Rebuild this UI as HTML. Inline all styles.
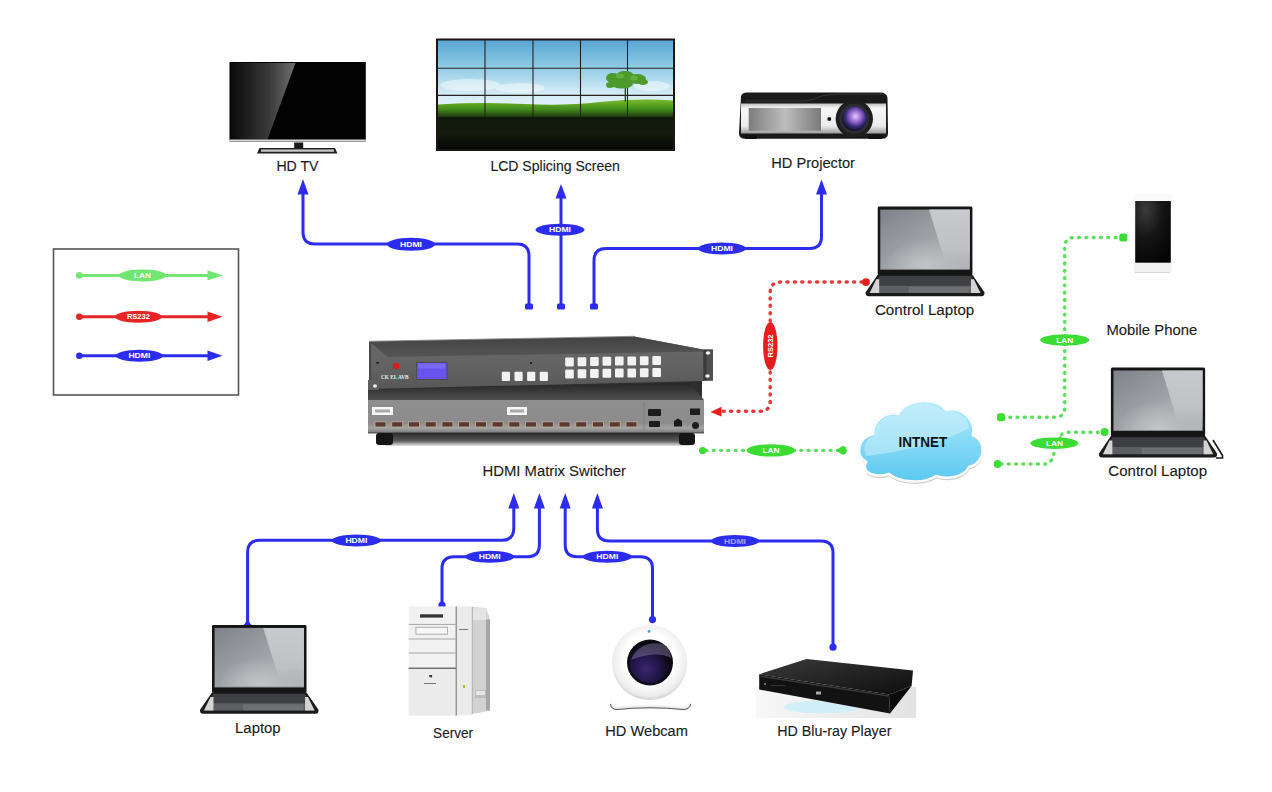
<!DOCTYPE html>
<html><head><meta charset="utf-8"><title>HDMI Matrix Switcher</title>
<style>
html,body{margin:0;padding:0;background:#fff;}
body{width:1272px;height:792px;overflow:hidden;position:relative;font-family:"Liberation Sans",sans-serif;}
svg{position:absolute;left:0;top:0;}
.lb{font-family:"Liberation Sans",sans-serif;font-size:14.7px;fill:#1a1a1a;stroke:#1a1a1a;stroke-width:0.12px;}
.tg{font-family:"Liberation Sans",sans-serif;font-size:8px;font-weight:bold;fill:#fff;}
</style></head>
<body>
<svg width="1272" height="792" viewBox="0 0 1272 792">
<defs>
  <linearGradient id="tvgl" x1="0" y1="0" x2="1" y2="0">
    <stop offset="0" stop-color="#0a0a0a"/><stop offset="0.6" stop-color="#3a3a3a"/><stop offset="1" stop-color="#707070"/>
  </linearGradient>
  <linearGradient id="sky" x1="0" y1="0" x2="0" y2="1">
    <stop offset="0" stop-color="#5aa6d2"/><stop offset="0.35" stop-color="#8fcbe6"/><stop offset="0.65" stop-color="#cfe9f4"/><stop offset="1" stop-color="#eef8fb"/>
  </linearGradient>
  <linearGradient id="grass" x1="0" y1="0" x2="0" y2="1">
    <stop offset="0" stop-color="#7abd2e"/><stop offset="0.55" stop-color="#418a1c"/><stop offset="1" stop-color="#1a330b"/>
  </linearGradient>
  <linearGradient id="dark" x1="0" y1="0" x2="0" y2="1">
    <stop offset="0" stop-color="#0f1a0b"/><stop offset="0.5" stop-color="#141a0d"/><stop offset="1" stop-color="#070806"/>
  </linearGradient>
  <linearGradient id="projbody" x1="0" y1="0" x2="0" y2="1">
    <stop offset="0" stop-color="#bdbdbd"/><stop offset="0.15" stop-color="#f6f6f6"/><stop offset="0.75" stop-color="#ececec"/><stop offset="1" stop-color="#9a9a9a"/>
  </linearGradient>
  <linearGradient id="projrect" x1="0" y1="0" x2="1" y2="0">
    <stop offset="0" stop-color="#7d7d7d"/><stop offset="0.5" stop-color="#bdbdbd"/><stop offset="1" stop-color="#7a7a7a"/>
  </linearGradient>
  <radialGradient id="lens" cx="0.55" cy="0.4" r="0.6">
    <stop offset="0" stop-color="#e6c8ff"/><stop offset="0.35" stop-color="#a070d8"/><stop offset="0.7" stop-color="#3a2a7a"/><stop offset="1" stop-color="#101025"/>
  </radialGradient>
  <linearGradient id="lapscr" x1="0" y1="0" x2="1" y2="1">
    <stop offset="0" stop-color="#7f8288"/><stop offset="0.6" stop-color="#a4a7ab"/><stop offset="1" stop-color="#b4b7ba"/>
  </linearGradient>
  <linearGradient id="laphl" x1="0" y1="0" x2="0" y2="1">
    <stop offset="0" stop-color="#c8cacd"/><stop offset="0.7" stop-color="#bec0c3"/><stop offset="1" stop-color="#b4b6b9" stop-opacity="0.3"/>
  </linearGradient>
  <radialGradient id="lapglow" cx="0.5" cy="0.95" r="0.45">
    <stop offset="0" stop-color="#c8cacd" stop-opacity="0.8"/><stop offset="1" stop-color="#c8cacd" stop-opacity="0"/>
  </radialGradient>
  <linearGradient id="lapbase" x1="0" y1="0" x2="0" y2="1">
    <stop offset="0" stop-color="#3c3d40"/><stop offset="1" stop-color="#5d5f63"/>
  </linearGradient>
  <linearGradient id="swtop" x1="0" y1="0" x2="0" y2="1">
    <stop offset="0" stop-color="#6a6a6a"/><stop offset="0.6" stop-color="#626262"/><stop offset="1" stop-color="#575757"/>
  </linearGradient>
  <linearGradient id="swunder" x1="0" y1="0" x2="0" y2="1">
    <stop offset="0" stop-color="#2a2a2a"/><stop offset="0.6" stop-color="#5a5a5a"/><stop offset="1" stop-color="#e8e8e8"/>
  </linearGradient>
  <linearGradient id="swstrip" x1="0" y1="0" x2="0" y2="1">
    <stop offset="0" stop-color="#434343"/><stop offset="1" stop-color="#555555"/>
  </linearGradient>
  <linearGradient id="swgap" x1="0" y1="0" x2="0" y2="1">
    <stop offset="0" stop-color="#262626"/><stop offset="1" stop-color="#4e4e4e"/>
  </linearGradient>
  <linearGradient id="swbot" x1="0" y1="0" x2="0" y2="1">
    <stop offset="0" stop-color="#8e8e8e"/><stop offset="0.7" stop-color="#8c8c8c"/><stop offset="0.85" stop-color="#a2a2a2"/><stop offset="1" stop-color="#7a7a7a"/>
  </linearGradient>
  <linearGradient id="lcdg" x1="0" y1="0" x2="1" y2="1">
    <stop offset="0" stop-color="#9a8cff"/><stop offset="1" stop-color="#5a3ee8"/>
  </linearGradient>
  <linearGradient id="cloudg" x1="0" y1="0" x2="0" y2="1">
    <stop offset="0" stop-color="#b4ebfb"/><stop offset="0.5" stop-color="#86daf6"/><stop offset="1" stop-color="#5cc8f0"/>
  </linearGradient>
  <linearGradient id="srvside" x1="0" y1="0" x2="1" y2="0">
    <stop offset="0" stop-color="#d6d6d6"/><stop offset="1" stop-color="#9c9c9c"/>
  </linearGradient>
  <radialGradient id="camlens" cx="0.4" cy="0.65" r="0.65">
    <stop offset="0" stop-color="#3a2670"/><stop offset="0.5" stop-color="#22164a"/><stop offset="0.85" stop-color="#0e0a1a"/><stop offset="1" stop-color="#050508"/>
  </radialGradient>
  <radialGradient id="camball" cx="0.5" cy="0.45" r="0.55">
    <stop offset="0.6" stop-color="#ffffff"/><stop offset="0.9" stop-color="#ececec"/><stop offset="1" stop-color="#cfcfcf"/>
  </radialGradient>
  <linearGradient id="brsh" x1="0" y1="0" x2="1" y2="0">
    <stop offset="0" stop-color="#f7f7f7"/><stop offset="0.6" stop-color="#ececec"/><stop offset="1" stop-color="#e2e2e2"/>
  </linearGradient>
  <radialGradient id="phscr" cx="0.3" cy="0.15" r="0.9">
    <stop offset="0" stop-color="#3c3c3c"/><stop offset="0.5" stop-color="#151515"/><stop offset="1" stop-color="#050505"/>
  </radialGradient>
  <linearGradient id="brtop" x1="0" y1="0" x2="1" y2="1">
    <stop offset="0" stop-color="#3a3a3a"/><stop offset="1" stop-color="#0e0e0e"/>
  </linearGradient>
</defs>

<!-- ===== TOP DEVICES ===== -->
<g id="tv">
  <rect x="229.5" y="62" width="136.3" height="78.5" fill="#030303"/>
  <polygon points="230.5,63 295.5,63 267.5,139.5 230.5,139.5" fill="url(#tvgl)"/>
  <rect x="229.5" y="139.5" width="136.3" height="2" fill="#d8d8d8"/>
  <rect x="229.5" y="141.2" width="136.3" height="0.8" fill="#888"/>
  <rect x="294.2" y="142.5" width="9" height="7" fill="#1a1a1a"/>
  <path d="M259.5,148 L335,148 L337.5,153.5 L257,153.5 Z" fill="#1e1e1e"/>
  <rect x="261" y="149.4" width="73" height="2.4" fill="#c4c4c4"/>
</g>
<text class="lb" x="276.4" y="170.7" textLength="42.1" lengthAdjust="spacingAndGlyphs">HD TV</text>

<g id="lcd">
  <rect x="436" y="38.5" width="239" height="112.5" fill="#1e1414"/>
  <rect x="438" y="40.5" width="235" height="77" fill="url(#sky)"/>
  <g fill="#f4fafc" opacity="0.55">
    <ellipse cx="470" cy="85" rx="30" ry="6"/>
    <ellipse cx="520" cy="88" rx="25" ry="5"/>
    <ellipse cx="652" cy="86" rx="18" ry="5"/>
  </g>
  <path d="M438,104.5 Q480,102 525,104 Q565,106 600,102 Q640,98 673,100.5 L673,117.5 L438,117.5 Z" fill="url(#grass)"/>
  <rect x="438" y="117" width="235" height="32" fill="url(#dark)"/>
  <g stroke="#262020" stroke-width="1.1">
    <line x1="485" y1="40" x2="485" y2="117"/>
    <line x1="533" y1="40" x2="533" y2="117"/>
    <line x1="580.5" y1="40" x2="580.5" y2="117"/>
    <line x1="627.5" y1="40" x2="627.5" y2="117"/>
    <line x1="438" y1="68.2" x2="673" y2="68.2"/>
    <line x1="438" y1="95.4" x2="673" y2="95.4"/>
  </g>
  <line x1="625.3" y1="84" x2="625.3" y2="101.5" stroke="#3a3020" stroke-width="1.3"/>
  <g fill="#4c9a2c">
    <ellipse cx="613" cy="78" rx="7" ry="5"/>
    <ellipse cx="625" cy="76" rx="9" ry="5"/>
    <ellipse cx="637" cy="79" rx="9" ry="5"/>
    <ellipse cx="622" cy="84" rx="11" ry="4.5"/>
    <ellipse cx="643" cy="82" rx="5" ry="3"/>
    <ellipse cx="610" cy="85" rx="4" ry="3"/>
  </g>
  <g fill="#6fb83a" opacity="0.7">
    <ellipse cx="620" cy="76" rx="4" ry="2.5"/>
    <ellipse cx="634" cy="78" rx="4" ry="2.5"/>
  </g>
</g>>
<text class="lb" x="490.4" y="170.9" textLength="129.5" lengthAdjust="spacingAndGlyphs">LCD Splicing Screen</text>

<g id="proj">
  <path d="M741,96 Q742,92.5 747,92.5 L880,92.5 Q887,92.5 887.5,98 L888,133 Q888,138.8 882,138.8 L745,138.8 Q739,138.8 739,133 Z" fill="#1a1a1a"/>
  <path d="M741,103.5 L886,103.5 L886,133.5 L741,133.5 Z" fill="url(#projbody)"/>
  <path d="M745,101 L800,101 Q812,101 818,97 Q826,94 850,94 L882,94" stroke="#3a3a3a" stroke-width="0.9" fill="none"/>
  <rect x="748.7" y="108" width="72.3" height="22.8" fill="url(#projrect)"/>
  <rect x="827.5" y="117.2" width="3.6" height="3.6" rx="0.8" fill="#111"/>
  <circle cx="854.3" cy="118.8" r="18.7" fill="#1e1e1e"/>
  <circle cx="854.3" cy="118.8" r="15" fill="#2c2c34"/>
  <circle cx="854.3" cy="118.8" r="12.2" fill="url(#lens)"/>
  <rect x="745" y="135" width="12" height="4" rx="1.5" fill="#111"/>
  <rect x="868" y="135" width="14" height="4" rx="1.5" fill="#111"/>
</g>
<text class="lb" x="771.2" y="167.6" textLength="83.8" lengthAdjust="spacingAndGlyphs">HD Projector</text>


<!-- ===== TOP BLUE CONNECTORS ===== -->
<g fill="none" stroke="#2c2cee" stroke-width="3" stroke-linecap="butt">
  <path d="M529,306 V256 Q529,244 517,244 H315 Q303,244 303,232 V192"/>
  <path d="M561,306 V196"/>
  <path d="M594,306 V260.5 Q594,248.5 606,248.5 H809.5 Q821.5,248.5 821.5,236.5 V192"/>
</g>
<g fill="#2c2cee">
  <polygon points="297.5,194.5 303,179 308.5,194.5"/>
  <polygon points="555.5,198.5 561,184 566.5,198.5"/>
  <polygon points="816,194.5 821.5,179.5 827,194.5"/>
  <rect x="525" y="303.5" width="8" height="6" rx="1.5"/>
  <rect x="557" y="303.5" width="8" height="6" rx="1.5"/>
  <rect x="590" y="303.5" width="8" height="6" rx="1.5"/>
  <ellipse cx="411" cy="244.3" rx="24" ry="6.5"/>
  <ellipse cx="560" cy="229.7" rx="24.5" ry="6"/>
  <ellipse cx="722" cy="248.5" rx="24" ry="6"/>
</g>
<g class="tg" text-anchor="middle">
  <text x="411" y="247.2" textLength="22" lengthAdjust="spacingAndGlyphs">HDMI</text>
  <text x="560" y="232.2" textLength="22" lengthAdjust="spacingAndGlyphs">HDMI</text>
  <text x="722" y="251" textLength="22" lengthAdjust="spacingAndGlyphs">HDMI</text>
</g>

<!-- ===== LEGEND ===== -->
<rect x="53.5" y="249" width="185" height="146" fill="#fff" stroke="#555" stroke-width="1.6"/>
<g stroke-width="3" fill="none">
  <line x1="79" y1="275.4" x2="210" y2="275.4" stroke="#72e672"/>
  <line x1="79" y1="316.8" x2="210" y2="316.8" stroke="#e82525"/>
  <line x1="79" y1="355.8" x2="210" y2="355.8" stroke="#2c2cee"/>
</g>
<g fill="#72e672">
  <circle cx="79.3" cy="275.4" r="3.3"/>
  <polygon points="207.5,270.2 222.5,275.4 207.5,280.6"/>
  <ellipse cx="142.5" cy="275.4" rx="23.5" ry="6"/>
</g>
<g fill="#e82525">
  <circle cx="79.3" cy="316.8" r="3.3"/>
  <polygon points="207.5,311.6 222.5,316.8 207.5,322"/>
  <ellipse cx="138.4" cy="316.8" rx="23.5" ry="6"/>
</g>
<g fill="#2c2cee">
  <circle cx="79.3" cy="355.8" r="3.3"/>
  <polygon points="207.5,350.6 222.5,355.8 207.5,361"/>
  <ellipse cx="139.4" cy="355.8" rx="23.5" ry="6"/>
</g>
<g class="tg" text-anchor="middle">
  <text x="142.5" y="278" textLength="17" lengthAdjust="spacingAndGlyphs">LAN</text>
  <text x="138.4" y="319.4" textLength="23" lengthAdjust="spacingAndGlyphs">RS232</text>
  <text x="139.4" y="358.4" textLength="22" lengthAdjust="spacingAndGlyphs">HDMI</text>
</g>


<!-- ===== MATRIX SWITCHER ===== -->
<g id="switcher">
  <!-- gap shadow -->
  <rect x="376" y="378" width="326" height="24" fill="#2e2e2e"/>
  <!-- bottom unit -->
  <polygon points="368,390 690,383 704,400 368,400" fill="url(#swgap)"/>
  <rect x="368" y="400" width="336" height="33" fill="url(#swbot)"/>
  <rect x="368" y="432" width="336" height="1.5" fill="#5a5a5a"/>
  <rect x="385" y="433" width="305" height="13" fill="url(#swunder)"/>
  <rect x="376" y="433" width="17" height="12" rx="3" fill="#151515"/>
  <rect x="679" y="433" width="16" height="12" rx="3" fill="#151515"/>

  <rect x="372" y="407" width="21" height="8" fill="#f7f7f7"/>
  <rect x="507" y="407" width="20" height="8" fill="#f7f7f7"/>
  <rect x="375" y="409.5" width="15" height="3" fill="#aaa"/>
  <rect x="510" y="409.5" width="14" height="3" fill="#aaa"/>
  <rect x="375.00" y="421.8" width="11" height="5.2" fill="#5a3a30" stroke="#c4b4a4" stroke-width="0.8"/><rect x="391.73" y="421.8" width="11" height="5.2" fill="#5a3a30" stroke="#c4b4a4" stroke-width="0.8"/><rect x="408.46" y="421.8" width="11" height="5.2" fill="#5a3a30" stroke="#c4b4a4" stroke-width="0.8"/><rect x="425.19" y="421.8" width="11" height="5.2" fill="#5a3a30" stroke="#c4b4a4" stroke-width="0.8"/><rect x="441.92" y="421.8" width="11" height="5.2" fill="#5a3a30" stroke="#c4b4a4" stroke-width="0.8"/><rect x="458.65" y="421.8" width="11" height="5.2" fill="#5a3a30" stroke="#c4b4a4" stroke-width="0.8"/><rect x="475.38" y="421.8" width="11" height="5.2" fill="#5a3a30" stroke="#c4b4a4" stroke-width="0.8"/><rect x="492.11" y="421.8" width="11" height="5.2" fill="#5a3a30" stroke="#c4b4a4" stroke-width="0.8"/><rect x="508.84" y="421.8" width="11" height="5.2" fill="#5a3a30" stroke="#c4b4a4" stroke-width="0.8"/><rect x="525.57" y="421.8" width="11" height="5.2" fill="#5a3a30" stroke="#c4b4a4" stroke-width="0.8"/><rect x="542.30" y="421.8" width="11" height="5.2" fill="#5a3a30" stroke="#c4b4a4" stroke-width="0.8"/><rect x="559.03" y="421.8" width="11" height="5.2" fill="#5a3a30" stroke="#c4b4a4" stroke-width="0.8"/><rect x="575.76" y="421.8" width="11" height="5.2" fill="#5a3a30" stroke="#c4b4a4" stroke-width="0.8"/><rect x="592.49" y="421.8" width="11" height="5.2" fill="#5a3a30" stroke="#c4b4a4" stroke-width="0.8"/><rect x="609.22" y="421.8" width="11" height="5.2" fill="#5a3a30" stroke="#c4b4a4" stroke-width="0.8"/><rect x="625.95" y="421.8" width="11" height="5.2" fill="#5a3a30" stroke="#c4b4a4" stroke-width="0.8"/>
  <line x1="644" y1="402" x2="644" y2="431" stroke="#7e7e7e" stroke-width="0.8"/>
  <rect x="648" y="409" width="13" height="7" rx="1" fill="#1c1c1c"/>
  <rect x="649" y="421" width="11" height="6" rx="1" fill="#1c1c1c"/>
  <path d="M674,426.5 V421 L678,418.5 L682,421 V426.5 Z" fill="#1c1c1c"/>
  <rect x="690" y="408.5" width="10" height="6.5" fill="#1c1c1c"/>
  <circle cx="695.5" cy="425.5" r="3.5" fill="#1c1c1c"/>
  <!-- top unit -->
  <polygon points="369,341.5 634,336.5 703,349.5 713,349.5 713,380.5 703,381 369,389" fill="url(#swtop)"/>
  <polygon points="369,341.5 634,336.5 703,349.5 703,351.5 388,357 369,341.5" fill="url(#swstrip)"/>
  <rect x="369" y="342" width="2.2" height="47" fill="#4a4a4a"/>
  <line x1="369" y1="341.3" x2="634" y2="336.3" stroke="#8a8a8a" stroke-width="0.9"/>
  <rect x="703" y="349.5" width="10" height="31" fill="#4e4e4e"/>
  <rect x="703.5" y="350" width="3" height="30" fill="#3a3a3a"/>
  <ellipse cx="708" cy="353" rx="2.3" ry="1.7" fill="#f0f0f0"/>
  <ellipse cx="707.5" cy="376" rx="2.3" ry="1.7" fill="#f0f0f0"/>
  <rect x="368" y="380" width="11" height="10" fill="#5e5e5e"/>
  <ellipse cx="375" cy="386" rx="2" ry="1.8" fill="#eee"/>
  <circle cx="396" cy="366" r="3.2" fill="#d42020"/>
  <rect x="376" y="362" width="3" height="1.6" fill="#222"/>
  <rect x="530" y="362" width="2" height="2" fill="#222"/>
  <text x="381" y="378.5" font-family="Liberation Serif" font-size="6" font-weight="bold" fill="#eee" textLength="27.5" lengthAdjust="spacingAndGlyphs">CK EL AVB</text>
  <rect x="416.6" y="362.3" width="30.4" height="17.2" fill="#6a52ee" stroke="#4a4a4a" stroke-width="0.9"/>
  <rect x="418" y="363.6" width="27" height="5" fill="#8a7cf6" opacity="0.5"/>
  <rect x="501.80" y="371.8" width="8.2" height="9.2" rx="1" fill="#f2f2f2"/><rect x="514.45" y="371.8" width="8.2" height="9.2" rx="1" fill="#f2f2f2"/><rect x="527.10" y="371.8" width="8.2" height="9.2" rx="1" fill="#f2f2f2"/><rect x="539.75" y="371.8" width="8.2" height="9.2" rx="1" fill="#f2f2f2"/>
  <rect x="565.20" y="357.40" width="8.6" height="9" rx="1" fill="#f2f2f2"/><rect x="565.20" y="369.40" width="8.6" height="9" rx="1" fill="#f2f2f2"/><rect x="577.65" y="357.20" width="8.6" height="9" rx="1" fill="#f2f2f2"/><rect x="577.65" y="369.20" width="8.6" height="9" rx="1" fill="#f2f2f2"/><rect x="590.10" y="357.00" width="8.6" height="9" rx="1" fill="#f2f2f2"/><rect x="590.10" y="369.00" width="8.6" height="9" rx="1" fill="#f2f2f2"/><rect x="602.55" y="356.80" width="8.6" height="9" rx="1" fill="#f2f2f2"/><rect x="602.55" y="368.80" width="8.6" height="9" rx="1" fill="#f2f2f2"/><rect x="615.00" y="356.60" width="8.6" height="9" rx="1" fill="#f2f2f2"/><rect x="615.00" y="368.60" width="8.6" height="9" rx="1" fill="#f2f2f2"/><rect x="627.45" y="356.40" width="8.6" height="9" rx="1" fill="#f2f2f2"/><rect x="627.45" y="368.40" width="8.6" height="9" rx="1" fill="#f2f2f2"/><rect x="639.90" y="356.20" width="8.6" height="9" rx="1" fill="#f2f2f2"/><rect x="639.90" y="368.20" width="8.6" height="9" rx="1" fill="#f2f2f2"/><rect x="652.35" y="356.00" width="8.6" height="9" rx="1" fill="#f2f2f2"/><rect x="652.35" y="368.00" width="8.6" height="9" rx="1" fill="#f2f2f2"/>
</g>
<text class="lb" x="482.5" y="475.6" textLength="143.5" lengthAdjust="spacingAndGlyphs">HDMI Matrix Switcher</text>

<!-- ===== RED RS232 ===== -->
<path d="M862,282.1 H780.5 Q770.2,282.1 770.2,292.4 V401 Q770.2,411.3 760,411.3 H721" fill="none" stroke="#e83838" stroke-width="3.5" stroke-linecap="round" stroke-dasharray="1 6.4"/>
<circle cx="866" cy="282.1" r="3.9" fill="#e81e1e"/>
<polygon points="710.4,412 721.5,406.8 721.5,416.6" fill="#e81e1e"/>
<ellipse cx="770.3" cy="346" rx="7.2" ry="24" fill="#e81e1e"/>
<text class="tg" x="770.3" y="348.8" text-anchor="middle" transform="rotate(-90 770.3 346)" textLength="23" lengthAdjust="spacingAndGlyphs">RS232</text>

<!-- ===== GREEN LAN ===== -->
<g fill="none" stroke="#5ede5e" stroke-width="3.4" stroke-linecap="round" stroke-dasharray="0.9 6.4">
  <path d="M706,450.4 H838"/>
  <path d="M1116,237.5 H1074.7 Q1064.7,237.5 1064.7,247.5 V407.3 Q1064.7,417.3 1054.7,417.3 H1004"/>
  <path d="M1001,464 H1046 Q1052,464 1055,449"/>
  <path d="M1060,438 V440 Q1060,432.3 1068,432.3 H1101"/>
</g>
<g fill="#3ddc35">
  <circle cx="702.6" cy="450.6" r="3.6"/>
  <ellipse cx="771" cy="450.4" rx="24.5" ry="6.2"/>
  <path d="M836,450.4 L842.5,446.1 A4.3,4.3 0 1 1 842.5,454.7 Z"/>
  <rect x="1119.3" y="233.5" width="8" height="8" rx="2.5"/>
  <ellipse cx="1064.7" cy="340" rx="24.5" ry="5.7"/>
  <rect x="997" y="413.3" width="8" height="8" rx="2.5"/>
  <circle cx="997.6" cy="464" r="3.9"/>
  <ellipse cx="1054.4" cy="443.2" rx="24" ry="5.8"/>
  <circle cx="1104.6" cy="432" r="4"/>
</g>
<g class="tg" text-anchor="middle">
  <text x="771" y="453" textLength="17" lengthAdjust="spacingAndGlyphs">LAN</text>
  <text x="1064.7" y="342.6" textLength="17" lengthAdjust="spacingAndGlyphs">LAN</text>
  <text x="1054.4" y="445.8" textLength="17" lengthAdjust="spacingAndGlyphs">LAN</text>
</g>


<defs>
<g id="laptop">
  <rect x="0" y="0" width="95" height="69" rx="1.5" fill="#151515"/>
  <rect x="2.6" y="3" width="89.8" height="60" fill="url(#lapscr)"/>
  <rect x="2.6" y="3" width="89.8" height="60" fill="url(#lapglow)"/>
  <polygon points="51.5,3 92.4,3 92.4,60 69,60" fill="url(#laphl)"/>
  <rect x="2.6" y="62.6" width="89.8" height="0.8" fill="#8a8c90"/>
  <path d="M0,68.5 L95,68.5 L107,86 Q107.5,90 104,90 L-9,90 Q-12.5,90 -12,86 Z" fill="#1a1a1a"/>
  <polygon points="1.5,69.8 93.5,69.8 104,86.8 -9,86.8" fill="#3e3f43"/>
  <polygon points="1,79.5 94,79.5 99,86.8 -4,86.8" fill="#5c5e62"/>
  <rect x="31" y="80.5" width="61" height="6" fill="#6e7074"/>
  <polygon points="-1.5,73 1.5,73 1.5,86.8 -8,86.8" fill="#d4d4d4"/>
  <polygon points="93.5,73 96.5,73 103,86.8 93.5,86.8" fill="#d4d4d4"/>
</g></defs>
<!-- ===== CLOUD ===== -->
<g id="cloud">
  <path id="cl" d="M866,462 C855,456 857,438 873,434 C873,420 886,411 898,414 C905,399 936,396 946,410 C961,406 976,419 973,435 C987,441 986,463 969,467 C964,477 948,480 936,476 C924,484 900,483 889,474 C877,478 860,474 866,462 Z" fill="#cfcfcf" transform="translate(0.5,2.5)"/>
  <path d="M866,462 C855,456 857,438 873,434 C873,420 886,411 898,414 C905,399 936,396 946,410 C961,406 976,419 973,435 C987,441 986,463 969,467 C964,477 948,480 936,476 C924,484 900,483 889,474 C877,478 860,474 866,462 Z" fill="url(#cloudg)" stroke="#fbfbfb" stroke-width="2.6"/>
  <path d="M866,456 C862,446 866,438 874,436 C874,422 886,414 898,416 C906,401 934,400 945,412 C958,409 968,417 969,428 C940,444 900,452 866,456 Z" fill="#d2f1fc" opacity="0.5"/>
  <text x="898.6" y="447.4" font-family="Liberation Sans" font-size="14.5" font-weight="bold" fill="#111" textLength="48.6" lengthAdjust="spacingAndGlyphs">INTNET</text>
</g>

<!-- ===== RIGHT DEVICES ===== -->
<use href="#laptop" transform="translate(877.7,206.6) scale(0.997,0.995)"/>
<text class="lb" x="874.9" y="314.8" textLength="99.4" lengthAdjust="spacingAndGlyphs">Control Laptop</text>
<g id="phone">
  <rect x="1133.4" y="194" width="38.4" height="78.8" rx="2.5" fill="#fafafa"/>
  <rect x="1133.8" y="262" width="37.6" height="10.5" rx="2" fill="#f2f2f2"/>
  <line x1="1135" y1="272.6" x2="1170" y2="272.6" stroke="#d0d0d0" stroke-width="0.9"/>
  <rect x="1135.2" y="201" width="35.6" height="61.7" fill="url(#phscr)"/>
</g>
<text class="lb" x="1106.4" y="334.8" textLength="90.8" lengthAdjust="spacingAndGlyphs">Mobile Phone</text>
<use href="#laptop" transform="translate(1110.9,367.5) scale(0.992,1.0)"/>
<path d="M1213,440 L1222.5,455.5 L1222.5,458 L1216,458" stroke="#1a1a1a" stroke-width="1.6" fill="none"/>
<text class="lb" x="1108.3" y="475.7" textLength="98.8" lengthAdjust="spacingAndGlyphs">Control Laptop</text>

<!-- ===== BOTTOM BLUE CONNECTORS ===== -->
<g fill="none" stroke="#2c2cee" stroke-width="3">
  <path d="M247.6,622 V552.3 Q247.6,540.3 259.6,540.3 H501.8 Q513.8,540.3 513.8,528.3 V506"/>
  <path d="M442,605 V568.7 Q442,556.7 454,556.7 H527.4 Q539.4,556.7 539.4,544.7 V506"/>
  <path d="M565.2,506 V544.7 Q565.2,556.7 577.2,556.7 H640.5 Q652.5,556.7 652.5,568.7 V619"/>
  <path d="M597.4,506 V529 Q597.4,541 609.4,541 H821 Q833,541 833,553 V646"/>
</g>
<g fill="#2c2cee">
  <polygon points="508.3,508.5 513.8,493 519.3,508.5"/>
  <polygon points="533.9,508.5 539.4,493 544.9,508.5"/>
  <polygon points="559.7,508.5 565.2,493 570.7,508.5"/>
  <polygon points="591.9,508.5 597.4,493 602.9,508.5"/>
  <path d="M242.6,626 Q247.6,622 247.6,614 Q247.6,622 252.6,626 Z"/>
  <circle cx="442" cy="605.2" r="3.6"/>
  <circle cx="652.5" cy="619.6" r="3.6"/>
  <circle cx="833" cy="647.2" r="3.6"/>
  <ellipse cx="356.4" cy="540.5" rx="24.5" ry="6"/>
  <ellipse cx="489.7" cy="556.7" rx="24.5" ry="6"/>
  <ellipse cx="607.3" cy="556.7" rx="24.5" ry="6"/>
  <ellipse cx="735" cy="541" rx="24" ry="6"/>
</g>
<g class="tg" text-anchor="middle">
  <text x="356.4" y="543" textLength="22" lengthAdjust="spacingAndGlyphs">HDMI</text>
  <text x="489.7" y="559.2" textLength="22" lengthAdjust="spacingAndGlyphs">HDMI</text>
  <text x="607.3" y="559.2" textLength="22" lengthAdjust="spacingAndGlyphs">HDMI</text>
  <text x="735" y="543.5" textLength="22" lengthAdjust="spacingAndGlyphs" opacity="0.55">HDMI</text>
</g>

<!-- ===== BOTTOM DEVICES ===== -->
<use href="#laptop" transform="translate(212,625) scale(0.995,0.985)"/>
<text class="lb" x="235.1" y="733.3" textLength="45.5" lengthAdjust="spacingAndGlyphs">Laptop</text>

<g id="server">
  <polygon points="472.3,607 486,608 490,619.5 490,710.5 472.3,714" fill="#d2d2d2"/>
  <rect x="486" y="619.5" width="4" height="91" fill="#a6a6a6"/>
  <polygon points="472.3,608 486,608.5 486,620 472.3,620" fill="#e4e4e4"/>
  <rect x="475" y="690" width="11" height="8" fill="#bdbdbd"/>
  <rect x="476" y="691" width="9" height="4" fill="#e6e6e6"/>
  <rect x="456" y="606.6" width="16.3" height="108.6" fill="#ebebeb"/>
  <line x1="472.3" y1="607" x2="472.3" y2="714" stroke="#a0a0a0" stroke-width="0.8"/>
  <rect x="408.7" y="606.4" width="47.3" height="109" fill="#f1f1f1"/>
  <rect x="408.7" y="668.4" width="47.3" height="47" fill="#ececec"/>
  <line x1="456.2" y1="606.4" x2="456.2" y2="715.4" stroke="#7a7a7a" stroke-width="1.1"/>
  <g stroke="#a6a6a6" stroke-width="1">
    <line x1="408.7" y1="624.4" x2="456" y2="624.4"/>
    <line x1="408.7" y1="639" x2="456" y2="639"/>
    <line x1="408.7" y1="653" x2="456" y2="653"/>
  </g>
  <line x1="408.7" y1="668.4" x2="456" y2="668.4" stroke="#707070" stroke-width="1.3"/>
  <rect x="416" y="627.3" width="31.5" height="6.8" fill="#f4f4f4" stroke="#b0b0b0" stroke-width="0.8"/>
  <rect x="418" y="629.8" width="27.5" height="1.8" fill="#d6d6d6"/>
  <rect x="420.5" y="614.6" width="22.5" height="2.6" fill="#3a3a3a"/>
  <rect x="430.3" y="675" width="1.8" height="2.4" fill="#333"/>
  <rect x="425" y="683" width="11" height="0.9" fill="#888"/>
  <rect x="463" y="685" width="1.8" height="2.8" fill="#c8b020"/>
  <rect x="459" y="629" width="9" height="0.9" fill="#888"/>
</g>
  <line x1="408.7" y1="668.4" x2="456" y2="668.4" stroke="#6e6e6e" stroke-width="1.4"/>
  <rect x="416" y="627.3" width="31.5" height="6.8" fill="#f8f8f8" stroke="#aaa" stroke-width="0.8"/>
  <rect x="420" y="614.5" width="23" height="3" fill="#333"/>
  <circle cx="430" cy="676" r="1" fill="#333"/>
  <rect x="424" y="683" width="12" height="1" fill="#777"/>
  <rect x="463" y="685" width="2" height="3" fill="#c8b020"/>
  <rect x="459" y="629" width="9" height="1" fill="#777"/>
</g>
<text class="lb" x="433.1" y="738.0" textLength="40.0" lengthAdjust="spacingAndGlyphs">Server</text>

<g id="webcam">
  <path d="M610.5,700.5 Q611,707 616,707 Q650,703 684,707 Q690,707 690.5,700.5 L691,705 Q690,710.5 684,710 Q650,707.5 616,710 Q610,710.5 610,705 Z" fill="#eeeeee"/>
  <path d="M610.5,704 Q611,709.5 617,709.5 Q650,706 683,709.5 Q690,709.5 690.5,704" fill="none" stroke="#555" stroke-width="1"/>
  <circle cx="649.6" cy="662.6" r="37.6" fill="url(#camball)"/>
  <circle cx="650" cy="662.6" r="23" fill="#0c0a12"/>
  <circle cx="650" cy="662.6" r="20.5" fill="url(#camlens)"/>
  <path d="M631,660 C636,646 650,641 662,644 C668,647 671,652 671,658 C660,652 645,654 631,660 Z" fill="#8a7fa8" opacity="0.45"/>
  <circle cx="649" cy="631.4" r="1.3" fill="#3aa0ff"/>
</g>
<text class="lb" x="605.3" y="735.8" textLength="82.6" lengthAdjust="spacingAndGlyphs">HD Webcam</text>

<g id="bluray">
  <rect x="755.7" y="687" width="160.5" height="31" fill="url(#brsh)"/>
  <ellipse cx="822" cy="707" rx="38" ry="6.5" fill="#cdeefa" opacity="0.85"/>
  <polygon points="759.2,674.2 806.6,659.1 913,670.4 911.6,686 889,694.5" fill="url(#brtop)"/>
  <polygon points="759.2,674.2 889,694.5 890,713.4 759.2,689.5" fill="#121212"/>
  <polygon points="889,694.5 911.6,686 890,713.4" fill="#0c0c0c"/>
  <path d="M760.5,676.3 L889,696" stroke="#383838" stroke-width="1.4" fill="none" shape-rendering="geometricPrecision"/>
  <rect x="816" y="691.5" width="5" height="3" fill="#aaa"/>
  <rect x="771" y="685" width="14" height="1" fill="#333"/>
  <circle cx="765" cy="684" r="0.9" fill="#999"/>
</g>
<text class="lb" x="777.3" y="736.0" textLength="114.1" lengthAdjust="spacingAndGlyphs">HD Blu-ray Player</text>

</svg>
</body></html>
